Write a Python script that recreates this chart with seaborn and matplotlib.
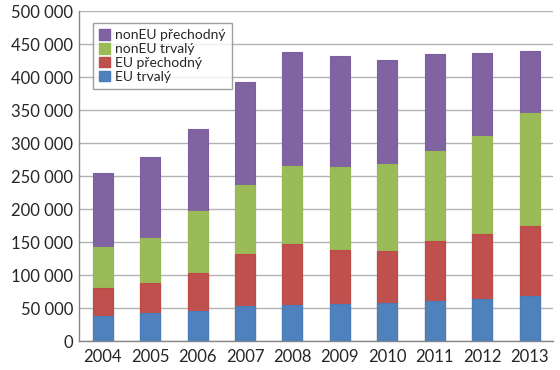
import matplotlib.pyplot as plt
import matplotlib.patches as mpatches
import numpy as np
import pandas as pd
import seaborn as sns

years = ["2004", "2005", "2006", "2007", "2008", "2009", "2010", "2011", "2012", "2013"]
eu_trvaly = [38800, 42400, 45000, 53500, 54500, 56000, 57600, 60100, 63600, 68600]
eu_prechodny = [41500, 45000, 58000, 78300, 92500, 81400, 78300, 91900, 98500, 106100]
noneu_trvaly = [62100, 68600, 94000, 104600, 118600, 126200, 131800, 136300, 148900, 170300]
noneu_prechodny = [112100, 123000, 124700, 156000, 172300, 168700, 157600, 146500, 125800, 94900]

labels = ["EU trvalý", "EU přechodný", "nonEU trvalý", "nonEU přechodný"]
colors = ["#4F81BD", "#C0504D", "#9BBB59", "#8064A2"]
edges = ["#4A7EBB", "#BE4B48", "#98B954", "#7D5FA0"]

df = pd.DataFrame({"year": years, labels[0]: eu_trvaly, labels[1]: eu_prechodny,
                   labels[2]: noneu_trvaly, labels[3]: noneu_prechodny})
cum = df[labels].cumsum(axis=1)
cum["year"] = df["year"]

sns.set_style("white")
plt.rcParams["font.family"] = ["Lato", "DejaVu Sans"]

fig, ax = plt.subplots(figsize=(5.6, 3.7), dpi=100)
fig.subplots_adjust(left=0.141, right=0.988, top=0.970, bottom=0.078)

# stacked bars: draw cumulative totals from top layer down
for i in range(3, -1, -1):
    sns.barplot(data=cum, x="year", y=labels[i], color=colors[i], width=0.42,
                edgecolor=edges[i], linewidth=0.8, saturation=1, ax=ax, zorder=3)

ax.set_ylim(0, 500000)
ax.set_xlim(-0.5, 9.5)
ax.set_yticks(np.arange(0, 500001, 50000))
ax.set_yticklabels([f"{v:,}".replace(",", " ") for v in range(0, 500001, 50000)], fontsize=12)
ax.set_xticks(range(10))
ax.set_xticklabels(years, fontsize=12)
ax.set_xticks(np.arange(-0.5, 10, 1), minor=True)
ax.tick_params(axis="x", which="major", length=0, pad=6)
ax.tick_params(axis="x", which="minor", length=5, color="#868686", width=1)
ax.tick_params(axis="y", length=0, pad=4)
ax.set_xlabel("")
ax.set_ylabel("")
ax.yaxis.grid(True, color="#B3B3B3", linewidth=1, zorder=0)
ax.set_axisbelow(True)
for s in ["top", "right"]:
    ax.spines[s].set_visible(False)
for s in ["left", "bottom"]:
    ax.spines[s].set_color("#868686")
    ax.spines[s].set_linewidth(1)

handles = [mpatches.Patch(facecolor=colors[i], edgecolor=edges[i], label=labels[i]) for i in range(3, -1, -1)]
leg = ax.legend(handles=handles, loc="upper left", bbox_to_anchor=(0.015, 0.985), fontsize=10,
                frameon=True, fancybox=False, edgecolor="#868686", handlelength=0.75, handleheight=0.8,
                handletextpad=0.4, labelspacing=0.12, borderpad=0.45)
leg.get_frame().set_linewidth(1)

fig.savefig("out.png", dpi=100)
